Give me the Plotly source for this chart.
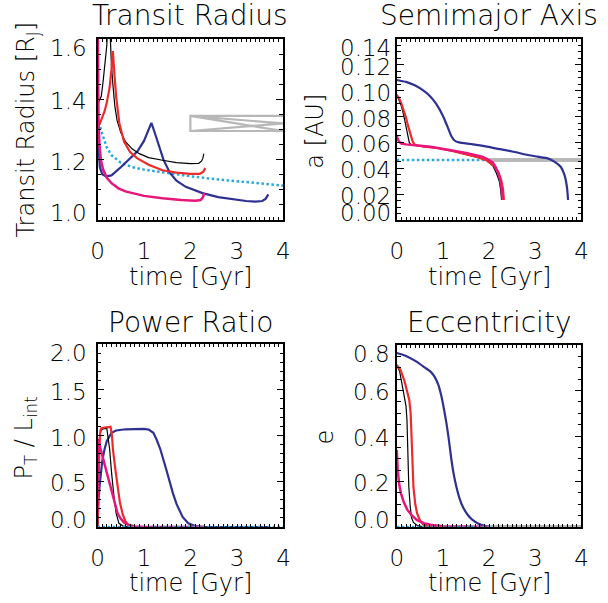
import plotly.graph_objects as go

# ---------------- data ----------------
# Panel 1: Transit Radius [R_J] vs time [Gyr]
t_R_black = [0.02, 0.05, 0.08, 0.12, 0.16, 0.20, 0.235, 0.27, 0.30, 0.33, 0.37, 0.42, 0.50, 0.60, 0.75, 0.90, 1.10, 1.40, 1.70, 2.00, 2.18, 2.24, 2.27, 2.29]
R_black   = [1.39, 1.40, 1.41, 1.46, 1.52, 1.58, 1.75, 1.58, 1.51, 1.45, 1.38, 1.33, 1.29, 1.26, 1.235, 1.22, 1.207, 1.198, 1.19, 1.187, 1.188, 1.195, 1.205, 1.22]
t_R_red   = [0.0, 0.05, 0.10, 0.15, 0.20, 0.26, 0.30, 0.33, 0.36, 0.40, 0.47, 0.57, 0.70, 0.85, 1.10, 1.40, 1.70, 2.00, 2.20, 2.28, 2.32]
R_red     = [1.31, 1.32, 1.34, 1.36, 1.39, 1.44, 1.50, 1.56, 1.49, 1.41, 1.32, 1.26, 1.225, 1.205, 1.183, 1.165, 1.157, 1.153, 1.153, 1.16, 1.172]
t_R_blue  = [0.0, 0.02, 0.05, 0.10, 0.18, 0.30, 0.50, 0.70, 0.86, 1.00, 1.08, 1.16, 1.22, 1.28, 1.35, 1.42, 1.56, 1.70, 1.90, 2.10, 2.26, 2.60, 2.96, 3.20, 3.40, 3.55, 3.62, 3.68]
R_blue    = [1.34, 1.24, 1.175, 1.152, 1.145, 1.148, 1.175, 1.205, 1.228, 1.262, 1.29, 1.322, 1.295, 1.267, 1.232, 1.20, 1.156, 1.13, 1.11, 1.097, 1.089, 1.076, 1.067, 1.063, 1.061, 1.063, 1.07, 1.085]
t_R_pink  = [0.0, 0.01, 0.02, 0.04, 0.07, 0.12, 0.20, 0.30, 0.45, 0.60, 0.80, 1.00, 1.40, 1.80, 2.10, 2.22, 2.27, 2.30]
R_pink    = [1.75, 1.45, 1.33, 1.25, 1.20, 1.167, 1.14, 1.122, 1.105, 1.095, 1.087, 1.08, 1.072, 1.066, 1.064, 1.066, 1.075, 1.09]
t_R_cyan  = [0.0, 0.05, 0.10, 0.20, 0.30, 0.50, 0.75, 1.00, 1.50, 2.00, 2.50, 3.00, 3.50, 4.00]
R_cyan    = [1.34, 1.31, 1.285, 1.24, 1.215, 1.19, 1.175, 1.167, 1.155, 1.145, 1.136, 1.128, 1.12, 1.114]
t_R_gray  = [4.0, 2.0, 2.0, 4.0, 2.0, 4.0, 2.0]
R_gray    = [1.345, 1.345, 1.295, 1.295, 1.345, 1.32, 1.295]

# Panel 2: semimajor axis a [AU]
t_a_blue  = [0.0, 0.20, 0.40, 0.60, 0.73, 0.85, 1.00, 1.10, 1.18, 1.25, 1.35, 1.60, 1.90, 2.14, 2.50, 2.84, 3.05, 3.27, 3.42, 3.55, 3.62, 3.66, 3.69, 3.71]
a_blue    = [0.1083, 0.1068, 0.1040, 0.0995, 0.0954, 0.090, 0.0805, 0.072, 0.065, 0.0615, 0.0600, 0.0588, 0.0572, 0.0554, 0.053, 0.0503, 0.049, 0.0477, 0.045, 0.0412, 0.036, 0.031, 0.024, 0.0155]
t_a_red   = [0.0, 0.05, 0.10, 0.15, 0.20, 0.25, 0.30, 0.34, 0.38, 0.42, 0.60, 0.90, 1.20, 1.50, 1.75, 1.95, 2.10, 2.20, 2.26, 2.30, 2.32]
a_red     = [0.0967, 0.094, 0.090, 0.085, 0.079, 0.072, 0.066, 0.061, 0.0585, 0.0578, 0.0568, 0.0555, 0.0535, 0.051, 0.0485, 0.046, 0.042, 0.037, 0.031, 0.024, 0.0155]
t_a_black = [0.0, 0.05, 0.10, 0.15, 0.20, 0.24, 0.27, 0.30, 0.35, 0.60, 0.90, 1.20, 1.50, 1.75, 1.95, 2.08, 2.16, 2.22, 2.25, 2.27]
a_black   = [0.0967, 0.093, 0.088, 0.081, 0.072, 0.064, 0.060, 0.0585, 0.0578, 0.0568, 0.0555, 0.0535, 0.051, 0.0485, 0.046, 0.042, 0.036, 0.030, 0.023, 0.0155]
t_a_pink  = [0.0, 0.02, 0.05, 0.10, 0.20, 0.30, 0.50, 0.73, 1.00, 1.29, 1.50, 1.71, 1.85, 1.99, 2.08, 2.14, 2.20, 2.24, 2.27, 2.29]
a_pink    = [0.0657, 0.0625, 0.0605, 0.0592, 0.0585, 0.058, 0.0574, 0.0567, 0.0552, 0.0532, 0.0518, 0.0503, 0.049, 0.0466, 0.0443, 0.041, 0.036, 0.031, 0.024, 0.0155]
t_a_cyan  = [0.0, 1.0, 2.0, 3.0, 4.0]
a_cyan    = [0.0465, 0.0465, 0.0465, 0.0465, 0.0465]
t_a_gray  = [2.0, 4.0]
a_gray    = [0.0465, 0.0465]

# Panel 3: power ratio P_T / L_int
t_P_blue  = [0.0, 0.02, 0.05, 0.10, 0.15, 0.20, 0.30, 0.40, 0.60, 0.80, 1.00, 1.10, 1.20, 1.27, 1.35, 1.48, 1.55, 1.62, 1.70, 1.83, 1.95, 2.10, 2.30, 3.72]
P_blue    = [0.0, 0.30, 0.48, 0.72, 0.85, 0.94, 1.03, 1.055, 1.068, 1.073, 1.072, 1.065, 1.03, 0.956, 0.85, 0.626, 0.49, 0.37, 0.25, 0.11, 0.04, 0.01, 0.0, 0.0]
t_P_red   = [0.0, 0.02, 0.04, 0.06, 0.08, 0.12, 0.20, 0.28, 0.31, 0.33, 0.38, 0.43, 0.48, 0.54, 0.60, 0.66, 0.75, 1.00, 2.32]
P_red     = [0.0, 0.50, 0.90, 1.05, 1.08, 1.085, 1.09, 1.095, 1.00, 0.85, 0.64, 0.44, 0.27, 0.14, 0.06, 0.025, 0.005, 0.0, 0.0]
t_P_black = [0.0, 0.02, 0.04, 0.06, 0.10, 0.15, 0.20, 0.22, 0.24, 0.26, 0.30, 0.33, 0.36, 0.40, 0.46, 0.55, 0.70, 2.27]
P_black   = [0.0, 0.50, 0.90, 1.04, 1.07, 1.075, 1.075, 1.00, 0.92, 0.85, 0.60, 0.40, 0.30, 0.15, 0.04, 0.01, 0.0, 0.0]
t_P_pink  = [0.0, 0.005, 0.02, 0.05, 0.10, 0.15, 0.22, 0.29, 0.36, 0.43, 0.50, 0.57, 0.65, 0.80, 1.00, 2.30]
P_pink    = [0.15, 0.96, 0.95, 0.88, 0.78, 0.70, 0.55, 0.41, 0.27, 0.15, 0.09, 0.05, 0.025, 0.005, 0.0, 0.0]
t_P_cyan  = [0.0, 1.0, 2.0, 3.0, 4.0]
P_cyan    = [0.0, 0.0, 0.0, 0.0, 0.0]

# Panel 4: eccentricity e
t_e_blue  = [0.0, 0.20, 0.40, 0.60, 0.73, 0.82, 0.90, 0.96, 1.02, 1.08, 1.13, 1.18, 1.23, 1.29, 1.36, 1.43, 1.53, 1.64, 1.77, 1.90, 2.00, 3.72]
e_blue    = [0.765, 0.752, 0.730, 0.702, 0.683, 0.66, 0.625, 0.58, 0.52, 0.45, 0.38, 0.30, 0.235, 0.177, 0.125, 0.089, 0.055, 0.031, 0.014, 0.005, 0.002, 0.0]
t_e_red   = [0.0, 0.08, 0.16, 0.22, 0.27, 0.30, 0.32, 0.34, 0.36, 0.40, 0.44, 0.50, 0.58, 0.70, 1.00, 2.32]
e_red     = [0.712, 0.69, 0.646, 0.60, 0.558, 0.50, 0.41, 0.29, 0.177, 0.10, 0.06, 0.03, 0.01, 0.003, 0.0, 0.0]
t_e_black = [0.0, 0.06, 0.12, 0.17, 0.20, 0.22, 0.24, 0.26, 0.29, 0.32, 0.36, 0.45, 0.60, 2.27]
e_black   = [0.712, 0.685, 0.62, 0.57, 0.53, 0.47, 0.34, 0.177, 0.09, 0.04, 0.02, 0.006, 0.0, 0.0]
t_e_pink  = [0.0, 0.01, 0.02, 0.05, 0.09, 0.15, 0.23, 0.33, 0.44, 0.58, 0.73, 1.00, 2.30]
e_pink    = [0.338, 0.29, 0.25, 0.19, 0.148, 0.11, 0.075, 0.05, 0.03, 0.017, 0.01, 0.003, 0.0]
t_e_cyan  = [0.0, 1.0, 2.0, 3.0, 4.0]
e_cyan    = [0.0, 0.0, 0.0, 0.0, 0.0]
t_e_gray  = [2.0, 4.0]
e_gray    = [0.0, 0.0]

# tick labels
x_tickvals = [0, 1, 2, 3, 4]
x_ticktext = ["0", "1", "2", "3", "4"]
R_tickvals = [1.0, 1.2, 1.4, 1.6]
R_ticktext = ["1.0", "1.2", "1.4", "1.6"]
a_tickvals = [0.00, 0.02, 0.04, 0.06, 0.08, 0.10, 0.12, 0.14]
a_ticktext = ["0.00", "0.02", "0.04", "0.06", "0.08", "0.10", "0.12", "0.14"]
P_tickvals = [0.0, 0.5, 1.0, 1.5, 2.0]
P_ticktext = ["0.0", "0.5", "1.0", "1.5", "2.0"]
e_tickvals = [0.0, 0.2, 0.4, 0.6, 0.8]
e_ticktext = ["0.0", "0.2", "0.4", "0.6", "0.8"]

titles = ["Transit Radius", "Semimajor Axis", "Power Ratio", "Eccentricity"]
ytitles = ["Transit Radius [R<sub>J</sub>]", "a [AU]", "P<sub>T</sub> / L<sub>int</sub>", "e"]
xtitle = "time [Gyr]"

# ---------------- style ----------------
FONT = "DejaVu Sans"
WGT = 200
C_BLACK = "#000000"
C_RED = "#ee2b2b"
C_PINK = "#e8157b"
C_BLUE = "#2e3192"
C_CYAN = "#27aae1"
C_GRAY = "#b8b8b8"

W, H = 608, 603
# plot boxes in pixels (left, right, top, bottom)
boxes = [(92.7, 282.7, 39, 220), (399, 588, 39, 220), (92.7, 283, 344, 527), (399, 588, 345, 527)]
yranges = [[1.0, 1.6], [0.0, 0.14], [0.0, 2.0], [0.0, 0.8]]
yminor = [0.05, 0.005, 0.1, 0.05]
ylab_xshift = [-9, -4, -9, -5]

fig = go.Figure()

def add(panel, x, y, color, width, dash="solid", shape="linear"):
    ax = "" if panel == 1 else str(panel)
    fig.add_trace(go.Scatter(x=x, y=y, mode="lines", xaxis="x" + ax, yaxis="y" + ax,
                             line=dict(color=color, width=width, dash=dash, shape=shape,
                                       smoothing=0.6 if shape == "spline" else None),
                             showlegend=False, hoverinfo="skip"))

DOT = "2.5px,2.5px"
# panel 1
add(1, t_R_cyan, R_cyan, C_CYAN, 2.5, DOT)
add(1, t_R_gray, R_gray, C_GRAY, 2.2)
add(1, t_R_blue, R_blue, C_BLUE, 2.2)
add(1, t_R_black, R_black, C_BLACK, 1.2)
add(1, t_R_red, R_red, C_RED, 2.2)
add(1, t_R_pink, R_pink, C_PINK, 2.5)
# panel 2
add(2, t_a_cyan, a_cyan, C_CYAN, 2.5, DOT)
add(2, t_a_gray, a_gray, C_GRAY, 4)
add(2, t_a_blue, a_blue, C_BLUE, 2.2, shape="spline")
add(2, t_a_black, a_black, C_BLACK, 1.2)
add(2, t_a_red, a_red, C_RED, 2.2)
add(2, t_a_pink, a_pink, C_PINK, 2.5)
# panel 3
add(3, t_P_blue, P_blue, C_BLUE, 2.2)
add(3, t_P_black, P_black, C_BLACK, 1.2)
add(3, t_P_red, P_red, C_RED, 2.2)
add(3, t_P_pink, P_pink, C_PINK, 2.5)
add(3, t_P_cyan, P_cyan, C_CYAN, 2.5, DOT)
# panel 4
add(4, t_e_blue, e_blue, C_BLUE, 2.2, shape="spline")
add(4, t_e_black, e_black, C_BLACK, 1.2)
add(4, t_e_red, e_red, C_RED, 2.2)
add(4, t_e_pink, e_pink, C_PINK, 2.5)
add(4, t_e_cyan, e_cyan, C_CYAN, 2.5, DOT)
add(4, t_e_gray, e_gray, C_GRAY, 4)

def F(size):
    return dict(family=FONT, size=size, color="black", weight=WGT)

layout = dict(width=W, height=H, margin=dict(l=0, r=0, t=0, b=0),
              paper_bgcolor="white", plot_bgcolor="white",
              font=F(22), showlegend=False)

ylabels = [(R_tickvals, R_ticktext), (a_tickvals, a_ticktext), (P_tickvals, P_ticktext), (e_tickvals, e_ticktext)]
annotations = []
for i, (l, r, t, b) in enumerate(boxes):
    n = i + 1
    ax = "" if n == 1 else str(n)
    xd = [l / W, r / W]
    yd = [1 - b / H, 1 - t / H]
    layout["xaxis" + ax] = dict(domain=xd, range=[0, 4], anchor="y" + ax,
                                tickvals=x_tickvals, ticktext=x_ticktext,
                                ticks="inside", ticklen=3, tickwidth=1, tickcolor="black",
                                minor=dict(dtick=0.1, ticks="inside", ticklen=3, tickwidth=1, tickcolor="black"),
                                showline=True, linewidth=1.5, linecolor="black", mirror="ticks",
                                showgrid=False, zeroline=False,
                                ticklabelstandoff=10,
                                tickfont=F(23))
    tv, tt = ylabels[i]
    layout["yaxis" + ax] = dict(domain=yd, range=yranges[i], anchor="x" + ax,
                                tickvals=tv, showticklabels=False,
                                ticks="inside", ticklen=7, tickwidth=1.2, tickcolor="black",
                                minor=dict(dtick=yminor[i], ticks="inside", ticklen=4, tickwidth=1, tickcolor="black"),
                                showline=True, linewidth=1.5, linecolor="black", mirror="ticks",
                                showgrid=False, zeroline=False)
    # y tick labels (edge labels nudged inward as in the original)
    for k, (v, s) in enumerate(zip(tv, tt)):
        if k == 0:
            ys = 7
        elif k == len(tv) - 1:
            ys = -9
        else:
            ys = -2
        annotations.append(dict(x=0, xref="x%s domain" % ax, y=v, yref="y" + ax,
                                text=s, showarrow=False, xanchor="right", yanchor="middle",
                                xshift=ylab_xshift[i], yshift=ys, font=F(23)))
    cx = (l + r) / 2 / W
    # title
    ty = 16 if i < 2 else 322
    annotations.append(dict(x=cx, y=1 - ty / H, xref="paper", yref="paper", text=titles[i],
                            showarrow=False, xanchor="center", yanchor="middle",
                            font=F(28)))
    # x title
    xty = 277 if i < 2 else 583
    annotations.append(dict(x=cx, y=1 - xty / H, xref="paper", yref="paper", text=xtitle,
                            showarrow=False, xanchor="center", yanchor="middle",
                            font=F(24)))

# y titles
ytpos = [(20, 130), (315, 131), (18, 438), (325, 437)]
for i, (px, py) in enumerate(ytpos):
    annotations.append(dict(x=px / W, y=1 - py / H, xref="paper", yref="paper", text=ytitles[i],
                            showarrow=False, xanchor="center", yanchor="middle", textangle=-90,
                            font=F(24)))

layout["annotations"] = annotations
fig.update_layout(**layout)
fig.write_html("out.html", config={"displayModeBar": False},
               post_script="document.body.style.margin='0px';")
